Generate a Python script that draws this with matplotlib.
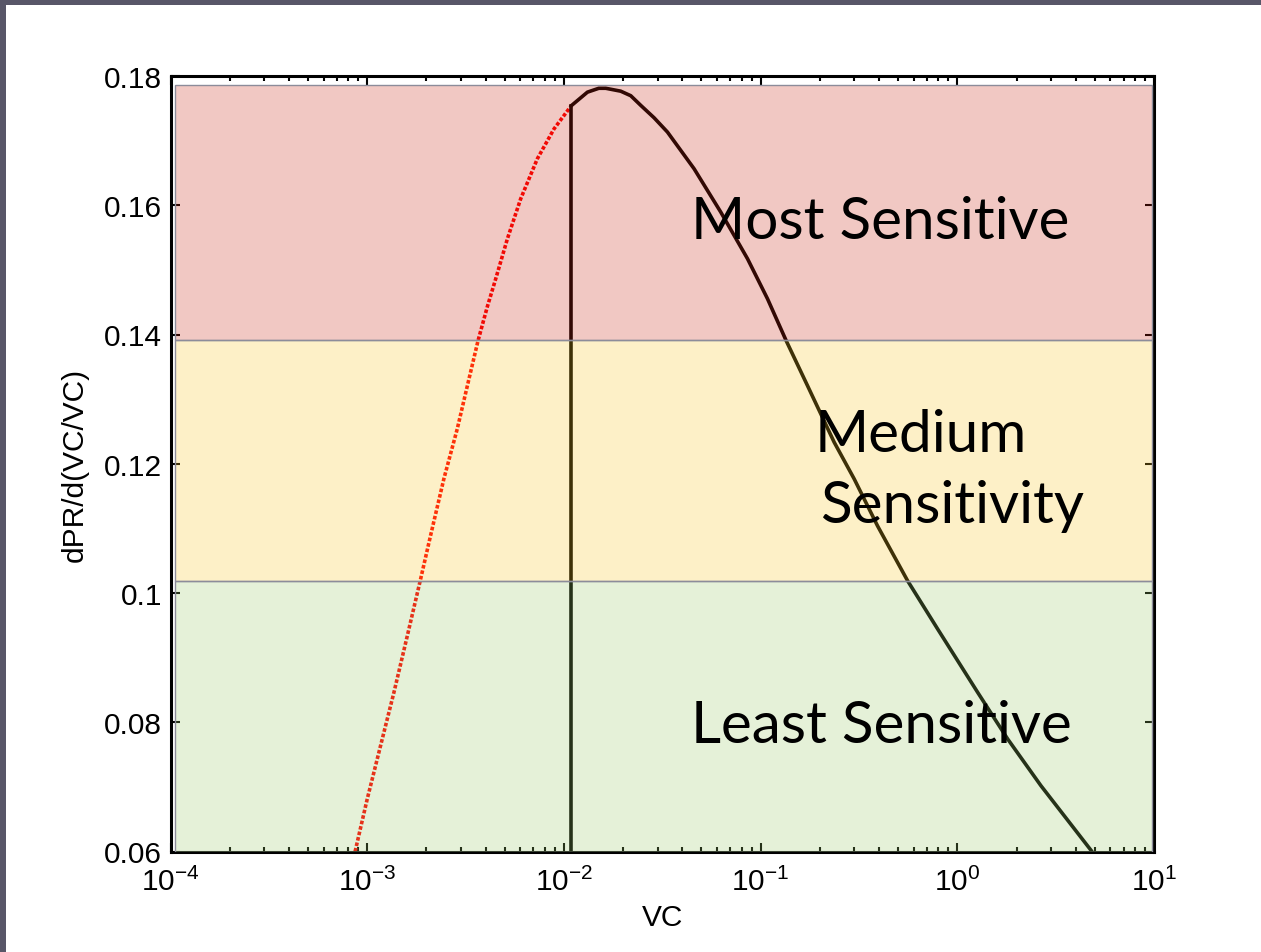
import numpy as np
import matplotlib
matplotlib.use("Agg")
import matplotlib.pyplot as plt
import matplotlib.patches as mpatches

plt.rcParams['font.family'] = ['Liberation Sans', 'DejaVu Sans']
plt.rcParams['mathtext.fontset'] = 'custom'
plt.rcParams['mathtext.rm'] = 'Liberation Sans'
plt.rcParams['mathtext.it'] = 'Liberation Sans:italic'
plt.rcParams['mathtext.bf'] = 'Liberation Sans:bold'

# rising branch (dotted red), left of the operating point
vc_rise = [0.000868, 0.001, 0.00117, 0.001367, 0.0016, 0.00187, 0.0021, 0.002455,
           0.00287, 0.00329, 0.003657, 0.00408, 0.0045, 0.00516, 0.00603, 0.00733,
           0.0089, 0.0109]
dpr_rise = [0.0600, 0.0681, 0.0764, 0.0846, 0.0934, 0.1022, 0.1089, 0.1177,
            0.1254, 0.1331, 0.1390, 0.1443, 0.1486, 0.1548, 0.1610, 0.1672,
            0.1718, 0.1754]

# solid black branch, right of the operating point
vc_fall = [0.0109, 0.01317, 0.01505, 0.01632, 0.01945, 0.02187, 0.0246, 0.02873,
           0.0336, 0.0459, 0.0627, 0.0858, 0.1084, 0.1351, 0.1733, 0.2365, 0.299,
           0.393, 0.5587, 0.794, 1.268, 1.803, 2.662, 4.836]
dpr_fall = [0.1754, 0.1775, 0.1781, 0.1781, 0.17765, 0.17695, 0.17545, 0.17354,
            0.17133, 0.16565, 0.15895, 0.15172, 0.14553, 0.1390, 0.13206, 0.12334,
            0.11766, 0.11039, 0.1019, 0.09444, 0.08464, 0.07741, 0.07018, 0.0600]

vc_marker = 0.0109

# sensitivity bands (lower, upper, colour)
band_names = ['Least', 'Medium', 'Most']
band_lo = [0.0600, 0.1019, 0.1391]
band_hi = [0.1019, 0.1391, 0.1786]
band_colors = ['#9bcb67', '#fbc723', '#cb2713']

fig = plt.figure(figsize=(12.61, 9.53), dpi=100)
fig.patch.set_facecolor('white')

# slide frame on top and left
fig.patches.append(mpatches.Rectangle((0, 947 / 953), 1, 6 / 953, transform=fig.transFigure,
                                      facecolor='#585668', edgecolor='none', zorder=0))
fig.patches.append(mpatches.Rectangle((0, 0), 6 / 1261, 1, transform=fig.transFigure,
                                      facecolor='#585668', edgecolor='none', zorder=0))

ax = fig.add_axes([170.5 / 1261, 100.5 / 953, 983.5 / 1261, 775.5 / 953])

ax.plot(vc_rise, dpr_rise, color='red', lw=2.6, dashes=(1.0, 0.55),
        dash_capstyle='butt', solid_joinstyle='round', zorder=2)
ax.plot(vc_fall, dpr_fall, color='black', lw=2.6, solid_joinstyle='round',
        solid_capstyle='round', zorder=2)
ax.plot([vc_marker, vc_marker], [0.06, dpr_rise[-1]], color='black', lw=2.6, zorder=2)

for lo, hi, c in zip(band_lo, band_hi, band_colors):
    ax.axhspan(lo, hi, xmin=0.0048, xmax=0.9975, facecolor=c, alpha=0.25,
               edgecolor='none', zorder=3)
    ax.axhspan(lo, hi, xmin=0.0048, xmax=0.9975, facecolor='none',
               edgecolor='#8c8c9a', lw=1.0, zorder=3.1)

ax.set_xscale('log')
ax.set_xlim(1e-4, 1e1)
ax.set_ylim(0.06, 0.18)
ax.set_yticks(np.arange(0.06, 0.181, 0.02))
ax.set_yticklabels(['0.06', '0.08', '0.1', '0.12', '0.14', '0.16', '0.18'])

for s in ax.spines.values():
    s.set_linewidth(2.2)
    s.set_zorder(2.5)

ax.tick_params(which='both', direction='in', top=True, right=True, labelsize=21.5)
ax.tick_params(which='major', length=6.5, width=1.5)
ax.tick_params(which='minor', length=3.6, width=1.5)
ax.tick_params(axis='x', which='major', pad=11)
ax.tick_params(axis='y', which='major', pad=6)

ax.set_xlabel('VC', fontsize=21.5, labelpad=5)
ax.set_ylabel('dPR/d(VC/VC)', fontsize=21.5, labelpad=11)

label_font = dict(family=['Lato', 'DejaVu Sans'], fontsize=42, color='black',
                  transform=ax.transAxes, ha='left', va='baseline', zorder=5)
ax.text(0.529, 0.7914, 'Most Sensitive', **label_font)
ax.text(0.655, 0.5166, 'Medium', **label_font)
ax.text(0.6605, 0.425, 'Sensitivity', **label_font)
ax.text(0.529, 0.1416, 'Least Sensitive', **label_font)

fig.savefig('out.png', dpi=100, facecolor='white')
